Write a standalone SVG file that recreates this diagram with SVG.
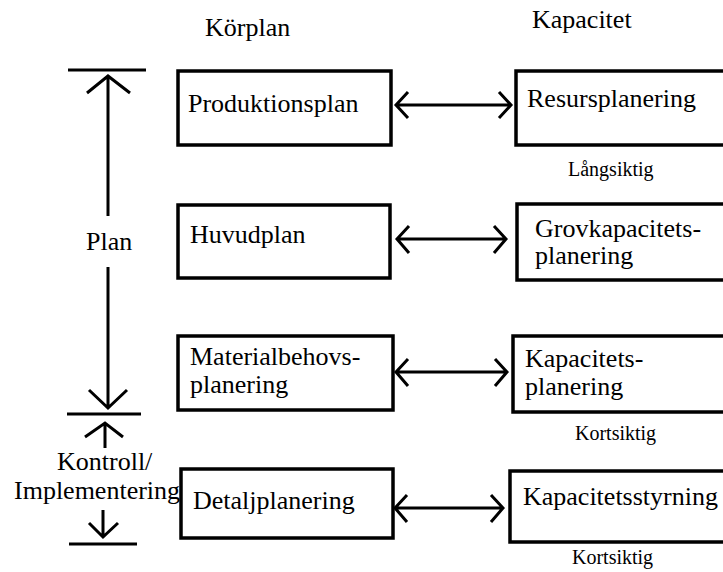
<svg xmlns="http://www.w3.org/2000/svg" width="723" height="572" viewBox="0 0 723 572" font-family="'Liberation Serif', 'Times New Roman', 'DejaVu Serif', serif">
<style>
.box{fill:#fff;stroke:#000;stroke-width:3.5}
.ln{fill:none;stroke:#000;stroke-width:3;stroke-linecap:butt;stroke-linejoin:miter}
.t{font-size:26px;font-family:'Liberation Serif','Times New Roman','DejaVu Serif',serif;fill:#000}
.s{font-size:20px;font-family:'Liberation Serif','Times New Roman','DejaVu Serif',serif;fill:#000}
</style>
<rect width="723" height="572" fill="#fff"/>
<g id="headers">
<text class="t" x="205" y="36">Körplan</text>
<text class="t" x="532" y="28">Kapacitet</text>
</g>
<g id="side">
<text class="t" x="86" y="250">Plan</text>
<text class="t" x="57" y="470">Kontroll/</text>
<text class="t" x="14" y="499">Implementering</text>
<path class="ln" d="M68 70H146M108 76V216M108 267V408M89 390L108 408L127 390M87 93L108 76L130 93M67 414H141"/>
<path class="ln" d="M105 423V448M85 437L105 423L123 437"/>
<path class="ln" d="M103 510V537M89 523L103 537L118 523M69 544H137"/>
</g>
<g id="produktionsplan">
<rect class="box" x="178" y="71" width="213" height="74"/>
<text class="t" x="188" y="112">Produktionsplan</text>
</g>
<g id="huvudplan">
<rect class="box" x="178" y="205" width="212" height="73"/>
<text class="t" x="190" y="243">Huvudplan</text>
</g>
<g id="materialbehovsplanering">
<rect class="box" x="178" y="336" width="215" height="74"/>
<text class="t" x="190" y="365">Materialbehovs-</text>
<text class="t" x="190" y="393">planering</text>
</g>
<g id="detaljplanering">
<rect class="box" x="181" y="469" width="212" height="69"/>
<text class="t" x="193" y="509">Detaljplanering</text>
</g>
<g id="resursplanering">
<rect class="box" x="516" y="71" width="220" height="74"/>
<text class="t" x="527" y="107">Resursplanering</text>
<text class="s" x="568" y="176">Långsiktig</text>
</g>
<g id="grovkapacitetsplanering">
<rect class="box" x="517" y="204" width="220" height="76"/>
<text class="t" x="535" y="237">Grovkapacitets-</text>
<text class="t" x="535" y="264">planering</text>
</g>
<g id="kapacitetsplanering">
<rect class="box" x="513" y="336" width="220" height="76"/>
<text class="t" x="525" y="367">Kapacitets-</text>
<text class="t" x="525" y="395">planering</text>
<text class="s" x="575" y="440">Kortsiktig</text>
</g>
<g id="kapacitetsstyrning">
<rect class="box" x="510" y="471" width="220" height="71"/>
<text class="t" x="523" y="505">Kapacitetsstyrning</text>
<text class="s" x="572" y="564">Kortsiktig</text>
</g>
<g id="connectors">
<path class="ln" d="M396 105H511M408 92L396 105L408 118M499 92L511 105L499 118"/>
<path class="ln" d="M397 239H506M409 226L397 239L409 253M494 226L506 239L494 253"/>
<path class="ln" d="M396 372H507M408 359L396 372L408 386M495 359L507 372L495 386"/>
<path class="ln" d="M395 508H503M407 495L395 508L407 522M491 495L503 508L491 522"/>
</g>
</svg>
